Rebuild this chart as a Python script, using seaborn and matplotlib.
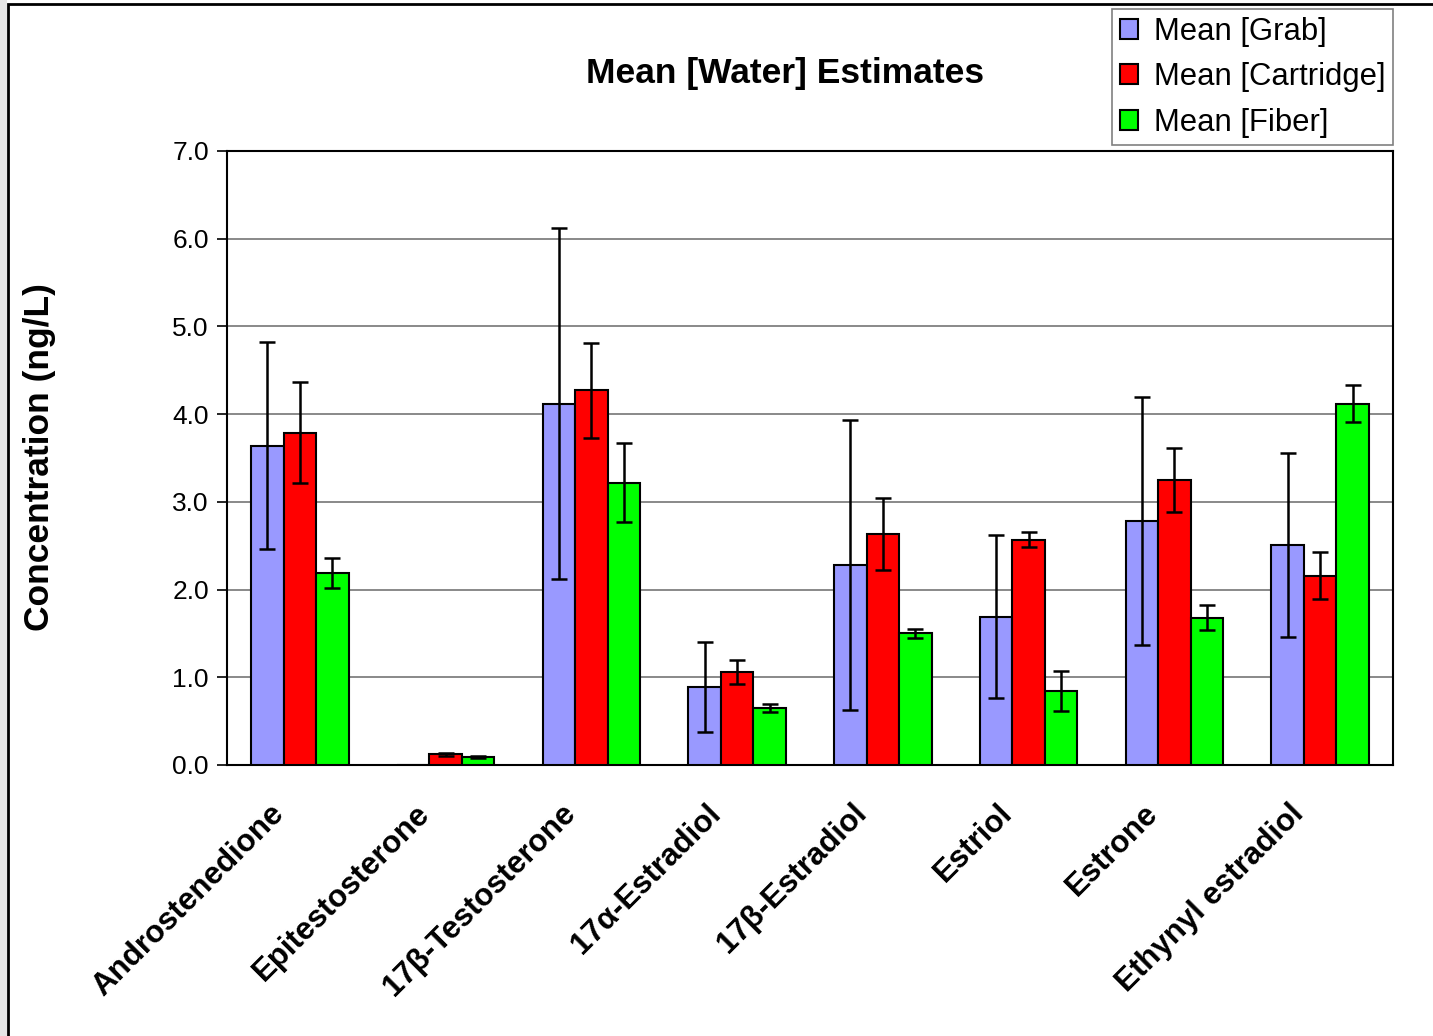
import numpy as np
import pandas as pd
import matplotlib
matplotlib.use('Agg')
import matplotlib.pyplot as plt
import matplotlib.transforms as mtransforms
from matplotlib.patches import Rectangle
import seaborn as sns

# Values
compounds = ['Androstenedione', 'Epitestosterone', '17β-Testosterone', '17α-Estradiol',
             '17β-Estradiol', 'Estriol', 'Estrone', 'Ethynyl estradiol']
methods = ['Mean [Grab]', 'Mean [Cartridge]', 'Mean [Fiber]']

grab_mean = [3.64, 0.0, 4.12, 0.89, 2.28, 1.69, 2.78, 2.51]
grab_err = [1.18, 0.0, 2.00, 0.51, 1.65, 0.93, 1.41, 1.05]
cart_mean = [3.79, 0.12, 4.27, 1.06, 2.63, 2.57, 3.25, 2.16]
cart_err = [0.58, 0.02, 0.54, 0.14, 0.41, 0.09, 0.36, 0.27]
fiber_mean = [2.19, 0.09, 3.22, 0.65, 1.50, 0.84, 1.68, 4.12]
fiber_err = [0.17, 0.01, 0.45, 0.05, 0.05, 0.23, 0.14, 0.21]

colors = ['#9999FF', '#FF0000', '#00FF00']

df = pd.DataFrame({
    'compound': compounds * 3,
    'method': np.repeat(methods, len(compounds)),
    'value': grab_mean + cart_mean + fiber_mean,
})
errs = [grab_err, cart_err, fiber_err]

sns.set_theme(style='white')
plt.rcParams['font.family'] = ['Liberation Sans', 'DejaVu Sans']
plt.rcParams['text.color'] = 'black'
plt.rcParams['xtick.color'] = 'black'
plt.rcParams['ytick.color'] = 'black'

fig = plt.figure(figsize=(14.33, 10.36), dpi=100)
ax = fig.add_axes([227 / 1433, 1 - 765 / 1036, (1393 - 227) / 1433, (765 - 151) / 1036])

sns.barplot(data=df, x='compound', y='value', hue='method', palette=colors, saturation=1,
            width=0.67, edgecolor='black', linewidth=1.5, ax=ax, legend=True, zorder=3)

# error bars on top of each bar
for cont, err in zip(ax.containers, errs):
    for bar, e in zip(cont, err):
        if e <= 0:
            continue
        xc = bar.get_x() + bar.get_width() / 2
        ax.errorbar(xc, bar.get_height(), yerr=e, fmt='none', ecolor='black',
                    elinewidth=1.8, capsize=6, capthick=1.8, zorder=4)

ax.set_ylim(0, 7)
ax.set_xlim(-0.5, len(compounds) - 0.5)
ax.set_yticks(np.arange(0, 7.1, 1.0))
ax.set_yticklabels([f'{v:.1f}' for v in np.arange(0, 7.1, 1.0)], fontsize=19)
ax.yaxis.grid(True, color='#808080', linewidth=1.3)
ax.set_axisbelow(True)
ax.set_xlabel('')
ax.set_ylabel('')

ax.set_xticks(np.arange(len(compounds)))
ax.set_xticks(np.arange(-0.5, len(compounds)), minor=True)
ax.tick_params(axis='x', which='major', length=0, pad=24)
ax.tick_params(axis='x', which='minor', length=9, width=1.2, color='black', direction='out')
ax.tick_params(axis='y', length=7, width=1.2, color='black', direction='out', left=True, pad=6)
ax.set_xticklabels(compounds, rotation=45, ha='right', rotation_mode='anchor',
                   fontsize=22.5, fontweight='bold')
# labels sit a little left of the category centre, as in the original
shift = mtransforms.ScaledTranslation(-31 / 100, 0, fig.dpi_scale_trans)
for lbl in ax.get_xticklabels():
    lbl.set_transform(lbl.get_transform() + shift)

for s in ax.spines.values():
    s.set_color('black')
    s.set_linewidth(1.5)

ax.legend_.remove()
handles = [Rectangle((0, 0), 1, 1, facecolor=c, edgecolor='black', linewidth=1.5) for c in colors]
leg = fig.legend(handles, methods, loc='upper right',
                 bbox_to_anchor=(1393 / 1433, 1 - 9 / 1036), fontsize=22.3,
                 handlelength=0.6, handleheight=0.6, handletextpad=0.5, borderaxespad=0,
                 labelspacing=0.5, borderpad=0.25, fancybox=False, frameon=True)
leg.get_frame().set_edgecolor('#606060')
leg.get_frame().set_linewidth(1.2)

fig.text(785 / 1433, 1 - 73 / 1036, 'Mean [Water] Estimates', ha='center', va='center',
         fontsize=25.5, fontweight='bold')
fig.text(40 / 1433, 1 - 457 / 1036, 'Concentration (ng/L)', ha='center', va='center',
         rotation=90, fontsize=25.5, fontweight='bold')

# outer chart frame and grey strip on the left
fig.patches.append(Rectangle((0, 0), 7 / 1433, 1, transform=fig.transFigure,
                             facecolor='#e6e6e6', edgecolor='none'))
fig.patches.append(Rectangle((8 / 1433, -0.05), 1.1, 1 - 4 / 1036 + 0.05,
                             transform=fig.transFigure, fill=False,
                             edgecolor='black', linewidth=2))

fig.savefig('out.png', dpi=100)
